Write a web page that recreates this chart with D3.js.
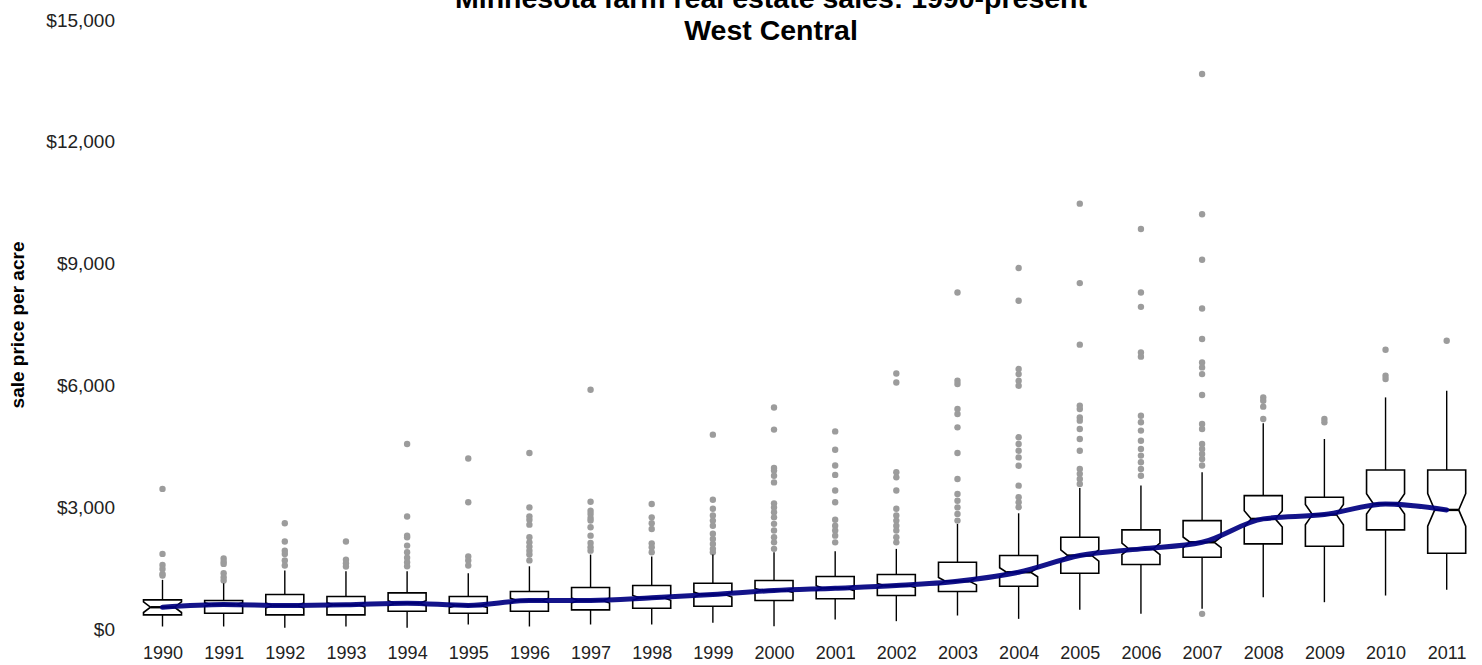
<!DOCTYPE html>
<html>
<head>
<meta charset="utf-8">
<script src="https://cdn.jsdelivr.net/npm/d3@7"></script>
<style>
  html, body { margin: 0; padding: 0; background: #fff; }
  svg { display: block; font-family: "Liberation Sans", Arial, sans-serif; }
</style>
</head>
<body>
<svg id="chart" width="1482" height="665"></svg>
<script>
// ---- data ----
const years = ["1990","1991","1992","1993","1994","1995","1996","1997","1998","1999","2000",
               "2001","2002","2003","2004","2005","2006","2007","2008","2009","2010","2011"];
const whiskerLow  = [74, 74, 42, 74, 42, 123, 74, 123, 123, 165, 82, 246, 205, 344, 262, 484, 385, 508, 795, 672, 836, 976];
const q1          = [361, 401, 361, 361, 450, 401, 450, 484, 524, 573, 713, 755, 836, 934, 1065, 1384, 1598, 1779, 2107, 2049, 2451, 1876];
const medians     = [548, 615, 590, 607, 647, 590, 713, 713, 779, 861, 959, 1016, 1082, 1188, 1409, 1820, 1984, 2147, 2722, 2828, 3090, 2943];
const q3          = [730, 713, 861, 811, 902, 811, 934, 1033, 1082, 1138, 1205, 1303, 1352, 1655, 1820, 2270, 2451, 2680, 3295, 3254, 3926, 3926];
const whiskerHigh = [1222, 1138, 1451, 1434, 1434, 1384, 1556, 1844, 1795, 1844, 1901, 1925, 1984, 2598, 2860, 3484, 3541, 3868, 5073, 4689, 5712, 5877];
const notchHalf   = [130, 40, 60, 50, 60, 45, 55, 60, 60, 60, 50, 60, 50, 90, 110, 140, 140, 130, 200, 250, 250, 400];
const outliers = [
  [3460, 1860, 1590, 1490, 1370, 1330],
  [1750, 1670, 1615, 1385, 1285, 1205],
  [2615, 2165, 1940, 1860, 1700, 1575],
  [2165, 1715, 1630, 1550],
  [4565, 2780, 2310, 2270, 2065, 1900, 1765, 1655, 1555],
  [4210, 3130, 1795, 1700, 1575],
  [4345, 3005, 2785, 2700, 2580, 2270, 2145, 2040, 1940, 1845, 1700],
  [5900, 3145, 2925, 2845, 2745, 2680, 2515, 2310, 2130, 2025, 1940],
  [3090, 2760, 2615, 2475, 2120, 2025, 1900],
  [4795, 3195, 2970, 2805, 2680, 2555, 2355, 2230, 2105, 1985, 1900],
  [5465, 4920, 3975, 3910, 3785, 3620, 3105, 3005, 2885, 2760, 2600, 2435, 2270, 2145, 1985],
  [4875, 4425, 4035, 3805, 3420, 3130, 2700, 2555, 2435, 2310, 2145],
  [6300, 6080, 3870, 3745, 3420, 2970, 2805, 2680, 2555, 2435, 2270, 2145],
  [8295, 6120, 6040, 5425, 5305, 4975, 4345, 3705, 3335, 3170, 3005, 2845, 2680],
  [8895, 8090, 6410, 6285, 6120, 6000, 4730, 4565, 4400, 4235, 4030, 3540, 3255, 3130, 3010],
  [10480, 8525, 7010, 5510, 5425, 5220, 5140, 4935, 4690, 4400, 3950, 3830, 3705, 3580],
  [9855, 8295, 7940, 6820, 6715, 5260, 5100, 4895, 4645, 4445, 4280, 4115, 3950, 3785],
  [13670, 10220, 9100, 7900, 7150, 6570, 6450, 6285, 5770, 5060, 4935, 4565, 4445, 4320, 4195, 4035, 385],
  [5710, 5630, 5485, 5180],
  [5180, 5100],
  [6885, 6245, 6165],
  [7105]
];
const trend = medians; // smooth trend line follows the yearly medians
const yTicks = [0, 3000, 6000, 9000, 12000, 15000];
const titleLines = ["Minnesota farm real estate sales: 1990-present", "West Central"];
const yTitle = "sale price per acre";

// ---- layout ----
const svg = d3.select("#chart");
const x = d3.scalePoint().domain(years).range([162.5, 1446.7]);
const y = d3.scaleLinear().domain([0, 15000]).range([629.5, 20]);
const halfW = 19, inset = 7;

// title
svg.append("text").attr("x", 771).attr("y", 8).attr("text-anchor", "middle")
  .attr("font-size", 28.5).attr("font-weight", "bold").text(titleLines[0]);
svg.append("text").attr("x", 771).attr("y", 40).attr("text-anchor", "middle")
  .attr("font-size", 28.5).attr("font-weight", "bold").text(titleLines[1]);

// y axis title
svg.append("text").attr("transform", "translate(24,325) rotate(-90)")
  .attr("text-anchor", "middle").attr("font-size", 19).attr("font-weight", "bold").text(yTitle);

// y axis
const yAxis = svg.append("g").attr("transform", "translate(115,0)")
  .call(d3.axisLeft(y).tickValues(yTicks).tickFormat(d3.format("$,")).tickSize(0).tickPadding(0));
yAxis.select(".domain").remove();
yAxis.selectAll("text").attr("font-size", 19).attr("fill", "#222").attr("font-family", "Liberation Sans, Arial, sans-serif");

// x axis
const xAxis = svg.append("g").attr("transform", "translate(0,646)")
  .call(d3.axisBottom(x).tickSize(0).tickPadding(0));
xAxis.select(".domain").remove();
xAxis.selectAll("text").attr("font-size", 18).attr("fill", "#222").attr("font-family", "Liberation Sans, Arial, sans-serif");

const data = years.map((yr, i) => ({
  yr, lo: whiskerLow[i], q1: q1[i], med: medians[i], q3: q3[i], hi: whiskerHigh[i],
  nh: notchHalf[i], out: outliers[i]
}));

const g = svg.append("g");

// outliers
data.forEach(d => {
  g.selectAll(null).data(d.out).enter().append("circle")
    .attr("cx", x(d.yr)).attr("cy", v => y(v)).attr("r", 3.2)
    .attr("fill", "#9c9c9c");
});

// whiskers
g.selectAll(".wlo").data(data).enter().append("line")
  .attr("x1", d => x(d.yr)).attr("x2", d => x(d.yr))
  .attr("y1", d => y(d.q1)).attr("y2", d => y(d.lo))
  .attr("stroke", "#000").attr("stroke-width", 1.4);
g.selectAll(".whi").data(data).enter().append("line")
  .attr("x1", d => x(d.yr)).attr("x2", d => x(d.yr))
  .attr("y1", d => y(d.q3)).attr("y2", d => y(d.hi))
  .attr("stroke", "#000").attr("stroke-width", 1.4);

// notched boxes
g.selectAll(".box").data(data).enter().append("path")
  .attr("d", d => {
    const cx = x(d.yr), L = cx - halfW, R = cx + halfW;
    const yt = y(d.q3), yb = y(d.q1), ym = y(d.med);
    const nt = y(d.med + d.nh), nb = y(d.med - d.nh);
    return `M${L},${yt}L${L},${nt}L${L + inset},${ym}L${L},${nb}L${L},${yb}` +
           `L${R},${yb}L${R},${nb}L${R - inset},${ym}L${R},${nt}L${R},${yt}Z`;
  })
  .attr("fill", "#fff").attr("stroke", "#000").attr("stroke-width", 1.6);

// medians
g.selectAll(".med").data(data).enter().append("line")
  .attr("x1", d => x(d.yr) - halfW + inset).attr("x2", d => x(d.yr) + halfW - inset)
  .attr("y1", d => y(d.med)).attr("y2", d => y(d.med))
  .attr("stroke", "#000").attr("stroke-width", 2.4);

// trend line
const line = d3.line().x((v, i) => x(years[i])).y(v => y(v)).curve(d3.curveMonotoneX);
svg.append("path").datum(trend).attr("d", line)
  .attr("fill", "none").attr("stroke", "#000080").attr("stroke-width", 5)
  .attr("stroke-opacity", 0.92).attr("stroke-linecap", "round");
</script>
</body>
</html>
